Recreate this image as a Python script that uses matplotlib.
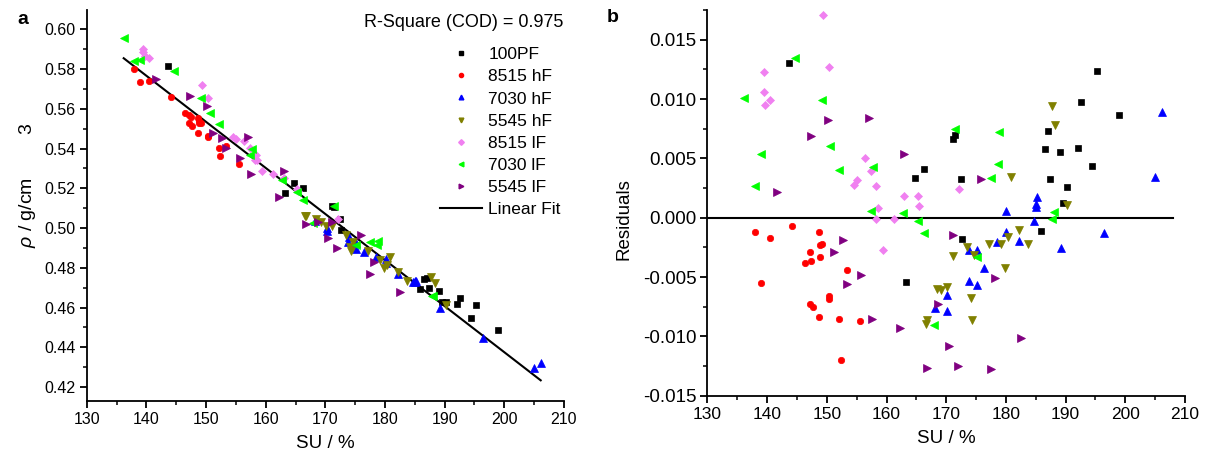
import numpy as np
import matplotlib
matplotlib.use('Agg')
import matplotlib.pyplot as plt
from matplotlib.ticker import MultipleLocator, FormatStrFormatter
from matplotlib.lines import Line2D

plt.rcParams['font.family'] = ['Liberation Sans', 'DejaVu Sans']
plt.rcParams['axes.unicode_minus'] = False
plt.rcParams['mathtext.fontset'] = 'custom'
plt.rcParams['mathtext.it'] = 'Liberation Sans:italic'
plt.rcParams['mathtext.rm'] = 'Liberation Sans'

# linear fit:  rho = fit_intercept + fit_slope * SU
fit_intercept = 0.90115
fit_slope = -0.002318
r_square = 0.975

# SU (%) and residuals (g/cm3) of each sample set
su_100pf = [143.6, 164.8, 166.2, 171.5, 171.2, 172.5, 163.2, 172.6, 185.8, 189.6,
            190.3, 187.4, 186.5, 187.1, 189.0, 192.0, 192.5, 194.5, 195.2, 199.0]
res_100pf = [0.01303, 0.00331, 0.00413, 0.00697, 0.00666, 0.00329, -0.00542, -0.0018, -0.0011, 0.00126,
             0.00255, 0.00329, 0.00576, 0.00727, 0.00554, 0.0059, 0.00978, 0.00436, 0.01239, 0.00865]

su_8515hf = [138.0, 140.5, 144.2, 139.0, 148.7, 148.8, 149.2, 147.2, 147.4, 146.4,
             148.9, 153.4, 150.3, 150.3, 147.1, 147.6, 148.7, 152.1, 155.5, 152.3]
res_8515hf = [-0.00118, -0.00169, -0.00073, -0.00548, -0.00124, -0.0023, -0.00225, -0.00289, -0.00368, -0.00382,
              -0.00334, -0.00441, -0.0066, -0.00688, -0.00725, -0.0075, -0.0084, -0.00854, -0.00871, -0.01202]

su_7030hf = [180.1, 184.7, 185.2, 185.1, 185.1, 206.1, 205.0, 173.9, 175.1, 176.4,
             178.5, 180.1, 182.2, 173.8, 175.2, 170.2, 168.2, 170.2, 196.4, 189.3]
res_7030hf = [0.00053, -0.00025, 0.00177, 0.00118, 0.0009, 0.00891, 0.00345, -0.00275, -0.00275, -0.00421,
              -0.00205, -0.00121, -0.002, -0.00536, -0.0057, -0.00649, -0.00761, -0.0079, -0.00129, -0.00253]

su_5545hf = [180.9, 190.2, 188.3, 187.7, 173.4, 174.7, 171.1, 177.1, 179.1, 180.4,
             182.2, 183.7, 179.9, 168.5, 169.2, 170.1, 174.2, 166.8, 166.6, 174.3]
res_5545hf = [0.0034, 0.00104, 0.00781, 0.00944, -0.0025, -0.00315, -0.00326, -0.00219, -0.00225, -0.0016,
              -0.00104, -0.00219, -0.00424, -0.00601, -0.00612, -0.00587, -0.0068, -0.00865, -0.00896, -0.00865]

su_8515lf = [139.4, 139.4, 140.4, 139.7, 149.3, 150.4, 156.4, 157.4, 155.1, 154.6,
             158.3, 158.6, 158.2, 161.3, 163.0, 165.3, 165.5, 159.4, 172.1]
res_8515lf = [0.01225, 0.01056, 0.00989, 0.00946, 0.01705, 0.01267, 0.00506, 0.00396, 0.0032, 0.00278,
              0.0027, 0.00078, -0.0001, -0.00014, 0.00185, 0.00185, 0.001, -0.00272, 0.00244]

su_7030lf = [136.2, 144.7, 139.0, 137.9, 149.2, 150.6, 152.1, 157.7, 157.4, 162.8,
             165.2, 171.5, 178.9, 177.5, 178.7, 188.0, 187.8, 166.3, 175.2, 168.0]
res_7030lf = [0.01009, 0.01345, 0.00537, 0.0027, 0.00989, 0.00601, 0.00402, 0.00424, 0.00056, 0.00042,
              -0.00025, 0.00747, 0.00719, 0.00331, 0.00449, 0.00045, -0.00014, -0.00132, -0.00331, -0.00904]

su_5545lf = [141.6, 150.2, 147.3, 157.0, 163.0, 175.9, 152.7, 151.2, 155.7, 153.3,
             157.6, 162.2, 171.2, 178.2, 168.7, 170.5, 182.5, 166.7, 171.9, 177.5]
res_5545lf = [0.00213, 0.00826, 0.00685, 0.0084, 0.00533, 0.00329, -0.00188, -0.00292, -0.00486, -0.00556,
              -0.00851, -0.0093, -0.00149, -0.00508, -0.00725, -0.01079, -0.01017, -0.0127, -0.0125, -0.01278]

labels = ['100PF', '8515 hF', '7030 hF', '5545 hF', '8515 lF', '7030 lF', '5545 lF']
su_all = [su_100pf, su_8515hf, su_7030hf, su_5545hf, su_8515lf, su_7030lf, su_5545lf]
res_all = [res_100pf, res_8515hf, res_7030hf, res_5545hf, res_8515lf, res_7030lf, res_5545lf]

colors = ['#000000', '#FF0000', '#0000FF', '#808000', '#F080F0', '#00FF00', '#800080']
markers = ['s', 'o', '^', 'v', 'D', '<', '>']
sizes = [4.0, 4.6, 5.2, 5.2, 4.4, 5.2, 5.2]

fig = plt.figure(figsize=(12.11, 4.57), dpi=100)
ax1 = fig.add_axes([0.0716, 0.1225, 0.3941, 0.8556])
ax2 = fig.add_axes([0.5842, 0.1341, 0.3943, 0.844])

handles = []
for su, res, lab, c, m, s in zip(su_all, res_all, labels, colors, markers, sizes):
    su = np.array(su)
    res = np.array(res)
    rho = fit_intercept + fit_slope * su + res
    ax1.plot(su, rho, ls='none', marker=m, ms=s, color=c, mec=c, mew=0.5, zorder=3)
    ax2.plot(su, res, ls='none', marker=m, ms=s, color=c, mec=c, mew=0.5, zorder=3)
    handles.append(Line2D([], [], ls='none', marker=m, ms=s * 0.65, color=c, mec=c, label=lab))

# fit line over the SU range of the data
su_cat = np.concatenate([np.array(v) for v in su_all])
x_fit = np.array([su_cat.min(), su_cat.max()])
ax1.plot(x_fit, fit_intercept + fit_slope * x_fit, color='black', lw=1.5, zorder=2)
handles.append(Line2D([], [], color='black', lw=1.5, label='Linear Fit'))

# zero line on residual plot
ax2.axhline(0, xmin=0, xmax=0.974, color='black', lw=1.5, zorder=2)

for ax in (ax1, ax2):
    ax.set_xlim(130, 210)
    ax.xaxis.set_major_locator(MultipleLocator(10))
    ax.xaxis.set_minor_locator(MultipleLocator(5))
    for side in ('top', 'right'):
        ax.spines[side].set_visible(False)
    for side in ('left', 'bottom'):
        ax.spines[side].set_linewidth(1.3)
    ax.tick_params(which='major', direction='out', length=5, width=1.3, labelsize=11.5, pad=3)
    ax.tick_params(which='minor', direction='out', length=3, width=1.1)
    ax.set_xlabel('SU / %', fontsize=13.5, labelpad=6)

ax2.tick_params(axis='x', which='major', labelsize=12.5)
ax2.tick_params(axis='y', which='major', labelsize=13.5)

ax1.set_ylim(0.413, 0.6097)
ax1.yaxis.set_major_locator(MultipleLocator(0.02))
ax1.yaxis.set_minor_locator(MultipleLocator(0.01))
ax1.yaxis.set_major_formatter(FormatStrFormatter('%.2f'))
ax1.set_ylabel(r'$\rho$ / g/cm        3', fontsize=14)
ax1.yaxis.set_label_coords(-0.102, 0.552)

ax2.set_ylim(-0.015, 0.0175)
ax2.yaxis.set_major_locator(MultipleLocator(0.005))
ax2.yaxis.set_minor_locator(MultipleLocator(0.0025))
ax2.yaxis.set_major_formatter(FormatStrFormatter('%.3f'))
ax2.set_ylabel('Residuals', fontsize=13.5)
ax2.yaxis.set_label_coords(-0.158, 0.458)

ax1.legend(handles=handles, loc='upper left', bbox_to_anchor=(0.740, 0.905),
           frameon=False, fontsize=12.5, handlelength=2.4, handletextpad=0.4,
           labelspacing=0.4, borderpad=0, borderaxespad=0)
ax1.text(0.998, 0.967, f'R-Square (COD) = {r_square}', transform=ax1.transAxes,
         ha='right', va='center', fontsize=13)

fig.text(23 / 1211, 1 - 19 / 457, 'a', fontsize=14, fontweight='bold', ha='center', va='center')
fig.text(613 / 1211, 1 - 18 / 457, 'b', fontsize=14, fontweight='bold', ha='center', va='center')

fig.savefig('out.png', dpi=100)
